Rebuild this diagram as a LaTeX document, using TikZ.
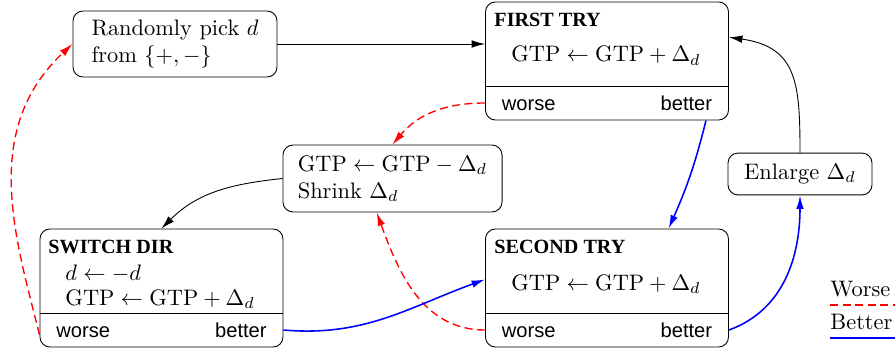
\documentclass[tikz,border=0pt]{standalone}
\usepackage{fontspec}
\usepackage{tikz}
\usetikzlibrary{arrows.meta}
\newfontfamily\headfont{Liberation Serif}
\newfontfamily\choicefont{Liberation Sans}
\tikzset{
	state/.style={draw, rounded corners=4.5pt, inner sep=0pt},
	tag/.style={font=\headfont\small\bfseries, anchor=base west, inner sep=0pt},
	verdict/.style={font=\choicefont\small, inner ysep=0pt, inner xsep=7.1pt},
	flow/.style={-{Latex[length=6pt,width=3.4pt]}},
	worse line/.style={red, line width=0.6pt, dash pattern=on 3.6pt off 2pt},
	better line/.style={blue, line width=0.7pt},
	worse/.style={flow, worse line},
	better/.style={flow, better line},
}

\begin{document}
\begin{tikzpicture}[x=0.4464pt, y=0.4464pt]
		%%%%% START %%%%%
		\useasboundingbox (0, 0) rectangle (895, 351);
		
		\node[state, minimum width=91.1pt, minimum height=29.5pt, align=left] (pick) at (175, 307) {Randomly pick $d$\\from $\{+,-\}$};
		\node[state, minimum width=108.5pt, minimum height=52.7pt] (first) at (607, 290) {};
		\node[state, minimum width=97.8pt, minimum height=29.9pt, align=left] (shrink) at (392.5, 172.5) {$\mathrm{GTP}\leftarrow\mathrm{GTP}-\Delta_d$\\Shrink $\Delta_d$};
		\node[state, minimum width=64.3pt, minimum height=18.7pt] (enlarge) at (800, 177) {Enlarge $\Delta_d$};
		\node[state, minimum width=108.5pt, minimum height=52.7pt] (switch) at (161.5, 63) {};
		\node[state, minimum width=108.5pt, minimum height=52.7pt] (second) at (607, 63) {};
		
		% first try
		\draw ([yshift=15.2pt]first.south west) -- ([yshift=15.2pt]first.south east);
		\node[tag] (first-tag) at (494, 324) {FIRST TRY};
		\node[anchor=base, inner sep=0pt] (first-step) at (606, 289) {$\mathrm{GTP}\leftarrow\mathrm{GTP}+\Delta_d$};
		\node[verdict, anchor=base west] (first-worse) at (485.5, 240) {worse};
		\node[verdict, anchor=base east] (first-better) at (728.5, 240) {better};
		
		% switch dir
		\draw ([yshift=15.2pt]switch.south west) -- ([yshift=15.2pt]switch.south east);
		\node[tag] (switch-tag) at (48, 98) {SWITCH DIR};
		\node[anchor=base west, inner sep=0pt] (switch-flip) at (65, 71) {$d\leftarrow -d$};
		\node[anchor=base west, inner sep=0pt] (switch-step) at (65, 46) {$\mathrm{GTP}\leftarrow\mathrm{GTP}+\Delta_d$};
		\node[verdict, anchor=base west] (switch-worse) at (40, 14) {worse};
		\node[verdict, anchor=base east] (switch-better) at (283, 14) {better};
		
		% second try
		\draw ([yshift=15.2pt]second.south west) -- ([yshift=15.2pt]second.south east);
		\node[tag] (second-tag) at (494, 98) {SECOND TRY};
		\node[anchor=base, inner sep=0pt] (second-step) at (606, 61) {$\mathrm{GTP}\leftarrow\mathrm{GTP}+\Delta_d$};
		\node[verdict, anchor=base west] (second-worse) at (485.5, 14) {worse};
		\node[verdict, anchor=base east] (second-better) at (728.5, 14) {better};
		
		% arrows
		\draw[flow] (pick.east) -- (pick.east -| first.west);
		\draw[flow] (enlarge.north) to[out=90, in=-8, looseness=1.3] (first.11);
		\draw[better] (first.-31) to[out=-104, in=66] (second.44);
		\draw[worse] (first.199) to[out=180, in=50] (shrink.north);
		\draw[flow] (shrink.west) to[out=186, in=45] (switch.north);
		\draw[worse] (second.199) to[out=180, in=-70] (shrink.245);
		\draw[better] (switch.-19) to[out=-5, in=200] (second.176);
		\draw[worse] (switch.201) .. controls +(104:99) and +(223:126) .. (pick.west);
		\draw[better] (second.-19) to[out=20, in=-90] (enlarge.south);
		
		% key
		\node[anchor=base west, inner sep=0pt] (key-worse) at (830, 55) {Worse};
		\draw[worse line] ([yshift=-3.6pt]key-worse.south west) -- ++(65, 0);
		\node[anchor=base west, inner sep=0pt] (key-better) at (830, 22) {Better};
		\draw[better line] ([yshift=-3.6pt]key-better.south west) -- ++(65, 0);
		
		%%%%% END %%%%%
	\end{tikzpicture}
\end{document}
